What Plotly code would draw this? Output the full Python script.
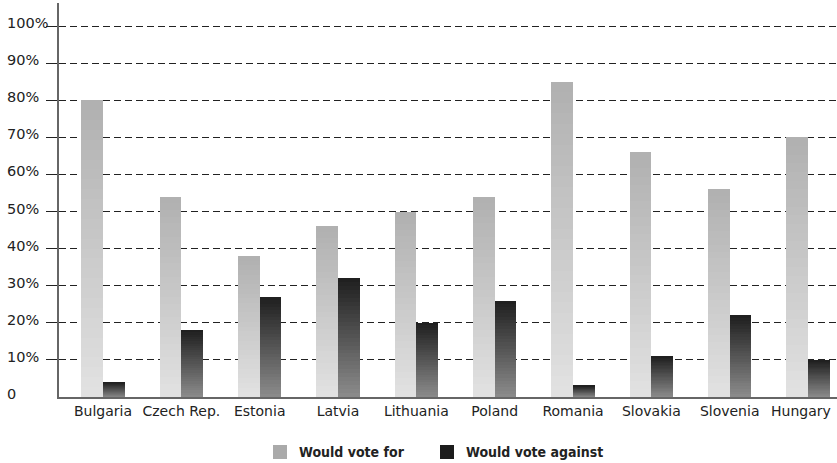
import plotly.graph_objects as go

countries = ["Bulgaria", "Czech Rep.", "Estonia", "Latvia", "Lithuania",
             "Poland", "Romania", "Slovakia", "Slovenia", "Hungary"]
vote_for = [80, 54, 38, 46, 50, 54, 85, 66, 56, 70]
vote_against = [4, 18, 27, 32, 20, 26, 3, 11, 22, 10]
y_ticks = [0, 10, 20, 30, 40, 50, 60, 70, 80, 90, 100]
y_tick_labels = ["0", "10%", "20%", "30%", "40%", "50%", "60%", "70%", "80%", "90%", "100%"]
series_names = ["Would vote for", "Would vote against"]
swatch_colors = ["#aaaaaa", "#1c1c1c"]

pos = list(range(len(countries)))
bar_w = 0.275
n_steps = 30

W, H = 837, 463
M_L, M_R, M_T, M_B = 59, 0, 3, 66
PW, PH = W - M_L - M_R, H - M_T - M_B


def px_x(x):
    return (x - M_L) / PW


def px_y(y):
    return (H - M_B - y) / PH


def lerp(c0, c1, t):
    return "rgb(%d,%d,%d)" % tuple(round(a + (b - a) * t) for a, b in zip(c0, c1))


fig = go.Figure()


def gradient_bars(values, offset, bottom_rgb, top_rgb, name):
    xs = [p + offset for p in pos]
    for k in range(n_steps):
        t = (k + 0.5) / n_steps
        fig.add_trace(go.Bar(
            x=xs,
            y=[v / n_steps for v in values],
            base=[v * k / n_steps for v in values],
            width=bar_w,
            name=name,
            marker=dict(color=lerp(bottom_rgb, top_rgb, t), line=dict(width=0)),
            showlegend=False,
            hoverinfo="skip",
        ))


gradient_bars(vote_for, -bar_w / 2, (226, 226, 226), (176, 176, 176), series_names[0])
gradient_bars(vote_against, bar_w / 2, (140, 140, 140), (30, 30, 30), series_names[1])

# left-aligned y labels
for v, lab in zip(y_ticks, y_tick_labels):
    fig.add_annotation(x=px_x(5), xref="paper", y=v, yref="y", text=lab,
                       showarrow=False, xanchor="left", yanchor="middle", yshift=3,
                       font=dict(family="DejaVu Sans", size=14.5, color="#222"))

# legend drawn below the plot: swatch + bold label
legend_items = [(273, series_names[0], swatch_colors[0]),
                (440, series_names[1], swatch_colors[1])]
for x0, name, col in legend_items:
    fig.add_shape(type="rect", xref="paper", yref="paper",
                  x0=px_x(x0), x1=px_x(x0 + 14), y0=px_y(459), y1=px_y(445),
                  fillcolor=col, line=dict(width=0))
    fig.add_annotation(x=px_x(x0 + 24), xref="paper", y=px_y(452), yref="paper",
                       text="<b>%s</b>" % name, showarrow=False,
                       xanchor="left", yanchor="middle",
                       font=dict(family="DejaVu Sans Condensed", size=14, color="#222"))

# keep the last category label inside the page
label_pos = pos[:-1] + [pos[-1] - 0.09]

fig.update_layout(
    width=W, height=H,
    margin=dict(l=M_L, r=M_R, t=M_T, b=M_B),
    paper_bgcolor="white", plot_bgcolor="white",
    barmode="overlay",
    bargap=0,
    font=dict(family="DejaVu Sans", size=14, color="#222"),
    showlegend=False,
    xaxis=dict(
        range=[-0.562, 9.37],
        tickmode="array", tickvals=label_pos, ticktext=countries,
        showline=True, linecolor="#666", linewidth=2,
        showgrid=False, zeroline=False, ticks="",
        tickfont=dict(family="DejaVu Sans", size=14, color="#222"),
    ),
    yaxis=dict(
        range=[0, 106.2],
        tickmode="array", tickvals=y_ticks[1:], showticklabels=False,
        ticks="outside", ticklen=11, tickcolor="#222", tickwidth=1,
        showline=True, linecolor="#666", linewidth=2,
        showgrid=True, gridcolor="#222", gridwidth=1, griddash="7px,4px",
        zeroline=False,
    ),
)

fig.write_html("out.html")
